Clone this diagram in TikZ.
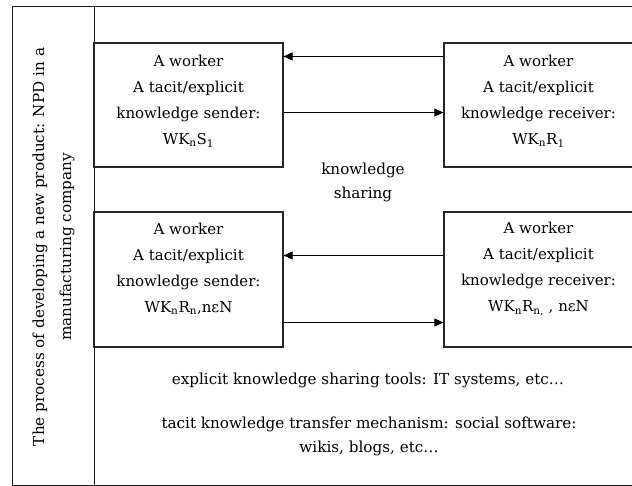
\documentclass[tikz,border=0pt]{standalone}
\usepackage{fontspec}
\setmainfont{DejaVu Serif}
\usetikzlibrary{arrows.meta}

\tikzset{
  worker/.style={draw=black!85, line width=1.1pt, minimum width=189pt, inner sep=0pt},
  workertext/.style={align=center, font=\fontsize{15}{26}\selectfont},
  note/.style={align=center, font=\fontsize{15.2}{24}\selectfont},
  flow/.style={-{Triangle[length=9pt,width=8pt]}, line width=0.9pt},
  frame/.style={draw=black!90, line width=1pt}
}

\begin{document}
\begin{tikzpicture}[x=1pt,y=-1pt]
\useasboundingbox (0,0) rectangle (632,486);

% Outer frame and the side column
\draw[frame] (12,7) -- (640,7);
\draw[frame] (12,7) -- (12,485) -- (640,485);
\draw[frame] (94,7) -- (94,485);
\node[note, rotate=90, font=\fontsize{15.2}{27}\selectfont] (process) at (53.5,247)
  {The process of developing a new product: NPD in a\\manufacturing company};

% Worker boxes
\node[worker, minimum height=124pt] (s1) at (188.5,105) {};
\node[worker, minimum height=124pt] (r1) at (538.5,105) {};
\node[worker, minimum height=135pt] (sn) at (188.5,279.5) {};
\node[worker, minimum height=135pt] (rn) at (538.5,279.5) {};

\node[workertext] (s1text) at ([yshift=4pt]s1.center)
  {A worker\\A tacit/explicit\\knowledge sender:\\WK\textsubscript{n}S\textsubscript{1}};
\node[workertext] (r1text) at ([yshift=4pt]r1.center)
  {A worker\\A tacit/explicit\\knowledge receiver:\\WK\textsubscript{n}R\textsubscript{1}};
\node[workertext] (sntext) at ([yshift=10.5pt]sn.center)
  {A worker\\A tacit/explicit\\knowledge sender:\\WK\textsubscript{n}R\textsubscript{n},nεN};
\node[workertext] (rntext) at ([yshift=10.5pt]rn.center)
  {A worker\\A tacit/explicit\\knowledge receiver:\\WK\textsubscript{n}R\textsubscript{n,} , nεN};

% Knowledge flows between the workers
\draw[flow] ([yshift=-14pt]r1.north west) -- ([yshift=-14pt]s1.north east);
\draw[flow] ([yshift=55pt]s1.south east) -- ([yshift=55pt]r1.south west);
\draw[flow] ([yshift=-44pt]rn.north west) -- ([yshift=-44pt]sn.north east);
\draw[flow] ([yshift=25pt]sn.south east) -- ([yshift=25pt]rn.south west);

\node[note] (sharing) at (363,182) {knowledge\\sharing};

% Tools and mechanisms
\node[note] (explicit) at (368,380) {explicit knowledge sharing tools: IT systems, etc…};
\node[note] (tacit) at (369,436) {tacit knowledge transfer mechanism: social software:\\wikis, blogs, etc…};
\end{tikzpicture}
\end{document}
